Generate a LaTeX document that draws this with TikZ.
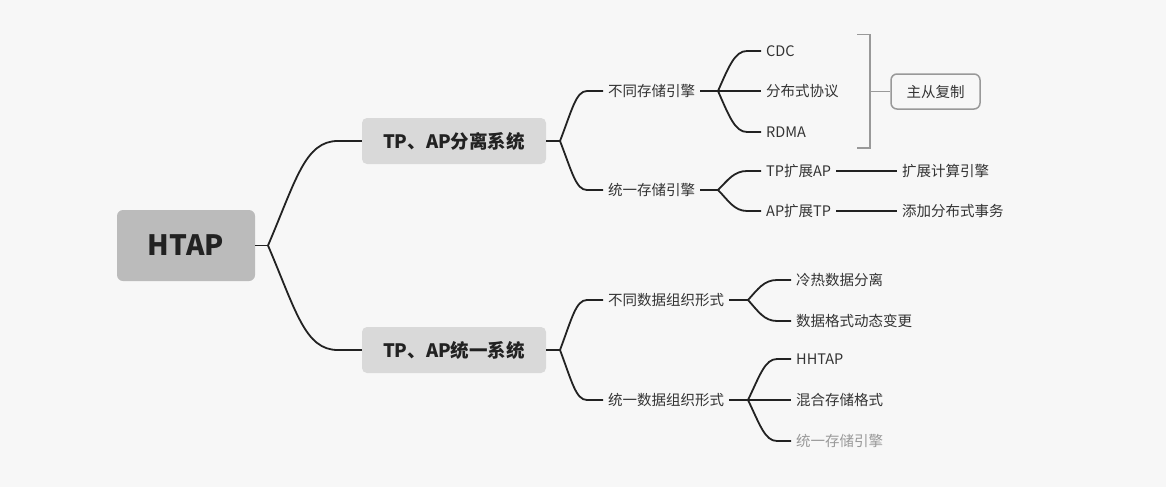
\documentclass[tikz,border=0pt]{standalone}
\usepackage{fontspec}
\setmainfont{Noto Sans CJK SC}
\definecolor{bg}{HTML}{F7F7F7}
\definecolor{rootfill}{HTML}{BBBBBB}
\definecolor{lonefill}{HTML}{D9D9D9}
\definecolor{ink}{HTML}{222222}
\definecolor{txt}{HTML}{333333}
\definecolor{muted}{HTML}{999999}
\begin{document}
\begin{tikzpicture}[x=1pt,y=-1pt,
  conn/.style={draw=ink,line width=1.8pt},
  rootbox/.style={fill=rootfill,rounded corners=6pt,minimum width=138pt,minimum height=71pt,inner sep=0pt,text=ink,font=\fontsize{28}{32}\selectfont\bfseries},
  lonebox/.style={fill=lonefill,rounded corners=5pt,minimum width=184pt,minimum height=46pt,inner sep=0pt,text=ink,font=\fontsize{18.5}{22}\selectfont\bfseries},
  leaf/.style={anchor=west,inner xsep=5pt,inner ysep=2pt,text=txt,font=\fontsize{14.5}{17}\selectfont},
  tagbox/.style={draw=muted,line width=1.5pt,rounded corners=6pt,minimum width=89pt,minimum height=35pt,inner sep=0pt,text=txt,font=\fontsize{14.5}{17}\selectfont},
  brk/.style={draw=muted,line width=1.5pt}
]
\fill[bg] (0,0) rectangle (1166,487);
\useasboundingbox (0,0) rectangle (1166,487);

% nodes
\node[rootbox] (root) at (186,245.5) {HTAP};
\node[lonebox] (sep) at (454,141) {TP、AP分离系统};
\node[lonebox] (uni) at (454,350) {TP、AP统一系统};

\node[leaf] (diffse) at (603,91) {不同存储引擎};
\node[leaf] (unise) at (603,190) {统一存储引擎};
\node[leaf] (cdc) at (761,51) {CDC};
\node[leaf] (proto) at (761,91) {分布式协议};
\node[leaf] (rdma) at (761,132) {RDMA};
\node[leaf] (tpap) at (761,171) {TP扩展AP};
\node[leaf] (aptp) at (761,211) {AP扩展TP};
\node[leaf] (calc) at (897,171) {扩展计算引擎};
\node[leaf] (dtx) at (897,211) {添加分布式事务};

\node[leaf] (difffmt) at (603,300) {不同数据组织形式};
\node[leaf] (unifmt) at (603,400) {统一数据组织形式};
\node[leaf] (cold) at (791,280) {冷热数据分离};
\node[leaf] (dyn) at (791,321) {数据格式动态变更};
\node[leaf] (hhtap) at (791,359) {HHTAP};
\node[leaf] (mix) at (791,400) {混合存储格式};
\node[leaf,text=muted] (useng) at (791,441) {统一存储引擎};

\node[tagbox] (master) at (935.5,91.5) {主从复制};

% branch points
\coordinate (b0) at (268,245.5);
\coordinate (b1) at (560,141);
\coordinate (b2) at (560,350);
\coordinate (b3) at (718,91);
\coordinate (b4) at (718,190);
\coordinate (b5) at (748,300);
\coordinate (b6) at (748,400);

% root level
\draw[conn] (root.east) -- (b0);
\draw[conn] (b0) .. controls (296,180) and (305,141) .. ([xshift=-24pt]sep.west) -- (sep.west);
\draw[conn] (b0) .. controls (296,311) and (305,350) .. ([xshift=-24pt]uni.west) -- (uni.west);

% level 1 -> 2
\draw[conn] (sep.east) -- (b1);
\draw[conn] (b1) .. controls (572,110) and (576,91) .. ([xshift=-16pt]diffse.west) -- (diffse.west);
\draw[conn] (b1) .. controls (572,172) and (576,190) .. ([xshift=-16pt]unise.west) -- (unise.west);
\draw[conn] (uni.east) -- (b2);
\draw[conn] (b2) .. controls (572,318) and (576,300) .. ([xshift=-16pt]difffmt.west) -- (difffmt.west);
\draw[conn] (b2) .. controls (572,382) and (576,400) .. ([xshift=-16pt]unifmt.west) -- (unifmt.west);

% level 2 -> 3 (upper)
\draw[conn] (diffse.east) -- (b3);
\draw[conn] (b3) .. controls (729,66) and (735,51) .. ([xshift=-14pt]cdc.west) -- (cdc.west);
\draw[conn] (b3) -- (proto.west);
\draw[conn] (b3) .. controls (729,116) and (735,132) .. ([xshift=-14pt]rdma.west) -- (rdma.west);
\draw[conn] (unise.east) -- (b4);
\draw[conn] (b4) .. controls (728,180) and (734,171) .. ([xshift=-14pt]tpap.west) -- (tpap.west);
\draw[conn] (b4) .. controls (728,200) and (734,211) .. ([xshift=-14pt]aptp.west) -- (aptp.west);
\draw[conn] (tpap.east) -- (calc.west);
\draw[conn] (aptp.east) -- (dtx.west);

% level 2 -> 3 (lower)
\draw[conn] (difffmt.east) -- (b5);
\draw[conn] (b5) .. controls (758,289) and (764,280) .. ([xshift=-14pt]cold.west) -- (cold.west);
\draw[conn] (b5) .. controls (758,311) and (764,321) .. ([xshift=-14pt]dyn.west) -- (dyn.west);
\draw[conn] (unifmt.east) -- (b6);
\draw[conn] (b6) .. controls (760,375) and (765,359) .. ([xshift=-14pt]hhtap.west) -- (hhtap.west);
\draw[conn] (b6) -- (mix.west);
\draw[conn] (b6) .. controls (760,425) and (765,441) .. ([xshift=-14pt]useng.west) -- (useng.west);

% bracket summary
\coordinate (bt) at (857,34.5);
\coordinate (bb) at (857,148);
\coordinate (bm) at (870,91.5);
\draw[brk] (bt) -| (bm) |- (bb);
\draw[brk] (bm) -- ([xshift=10pt]bm) -- (master.west);
\end{tikzpicture}
\end{document}
